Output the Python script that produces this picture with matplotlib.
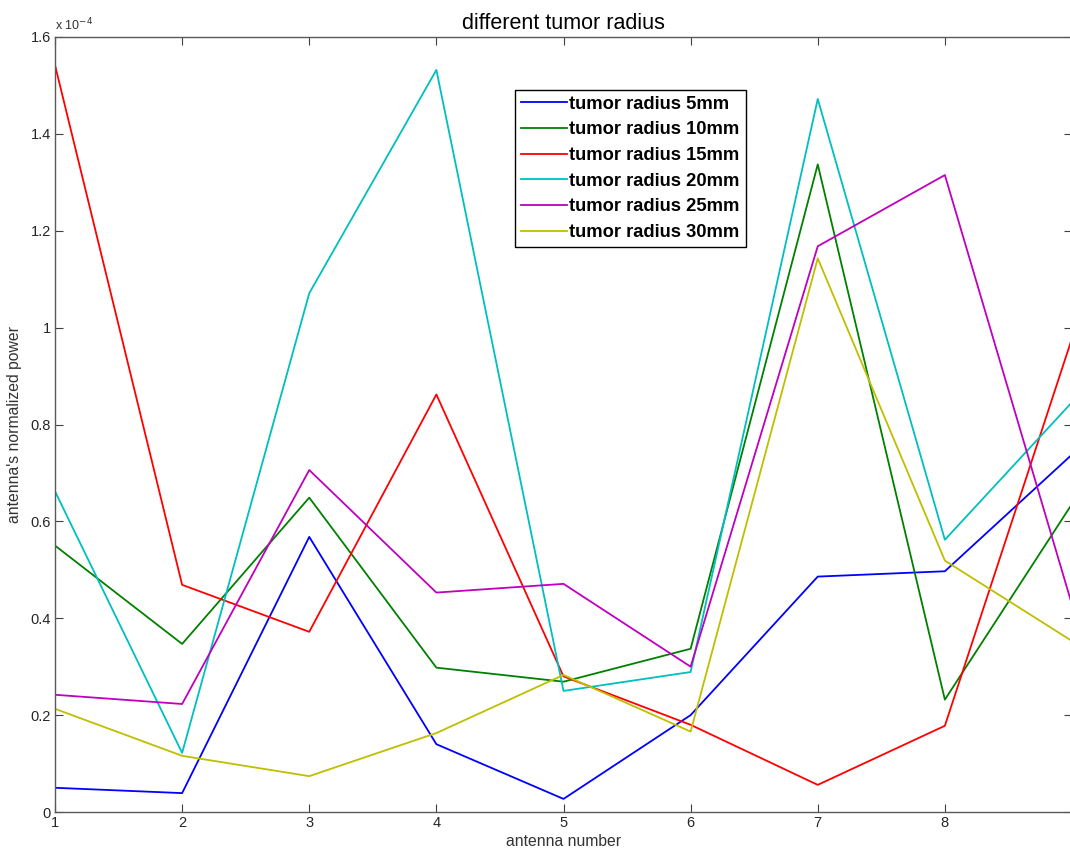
import matplotlib
matplotlib.use('Agg')
import matplotlib.pyplot as plt

plt.rcParams['font.family'] = ['Liberation Sans', 'DejaVu Sans']

# antenna index and normalized power (units of 1e-4)
antenna = [1, 2, 3, 4, 5, 6, 7, 8, 9]
r5 = [0.050, 0.039, 0.568, 0.140, 0.027, 0.200, 0.486, 0.497, 0.738]
r10 = [0.550, 0.347, 0.649, 0.298, 0.269, 0.337, 1.337, 0.232, 0.636]
r15 = [1.542, 0.469, 0.372, 0.862, 0.280, 0.180, 0.056, 0.178, 0.978]
r20 = [0.662, 0.122, 1.071, 1.532, 0.250, 0.289, 1.472, 0.562, 0.846]
r25 = [0.242, 0.223, 0.706, 0.453, 0.471, 0.300, 1.168, 1.315, 0.428]
r30 = [0.213, 0.116, 0.074, 0.163, 0.283, 0.166, 1.143, 0.519, 0.353]

labels = ['tumor radius 5mm', 'tumor radius 10mm', 'tumor radius 15mm',
          'tumor radius 20mm', 'tumor radius 25mm', 'tumor radius 30mm']
colors = ['#0000ff', '#008000', '#ff0000', '#00bfbf', '#bf00bf', '#bfbf00']
yticks = [0, 0.2, 0.4, 0.6, 0.8, 1, 1.2, 1.4, 1.6]
ytick_labels = ['0', '0.2', '0.4', '0.6', '0.8', '1', '1.2', '1.4', '1.6']

W, H = 1070, 852
fig = plt.figure(figsize=(W / 100, H / 100), dpi=100)
ax = fig.add_axes([55 / W, (H - 812) / H, (1072 - 55) / W, (812 - 37) / H])

for ys, lab, c in zip([r5, r10, r15, r20, r25, r30], labels, colors):
    ax.plot(antenna, ys, color=c, lw=1.3, label=lab)

ax.set_xlim(1, 9)
ax.set_ylim(0, 1.6)
ax.set_xticks(antenna[:-1])
ax.set_yticks(yticks)
ax.set_yticklabels(ytick_labels)
ax.tick_params(direction='in', length=6, width=0.8, color='0.25',
               labelsize=10.5, labelcolor='0.15', top=True, right=True, pad=3)
for s in ax.spines.values():
    s.set_color('0.35')
    s.set_linewidth(1.0)

ax.set_title('different tumor radius', fontsize=15.5, pad=6)
ax.set_xlabel('antenna number', fontsize=11.3, color='0.2', labelpad=3)
ax.set_ylabel("antenna's normalized power", fontsize=11.3, color='0.2', labelpad=6)
ax.text(0.0, 1.005, r'x 10$^{-4}$', transform=ax.transAxes, fontsize=9,
        color='0.2', ha='left', va='bottom')

leg = ax.legend(loc='upper left', bbox_to_anchor=(515 / W, 1 - 90 / H),
                bbox_transform=fig.transFigure, fontsize=13.2, frameon=True,
                fancybox=False, framealpha=1, edgecolor='black',
                handlelength=2.5, handletextpad=0.15, labelspacing=0.47,
                borderpad=0.32, borderaxespad=0)
leg.get_frame().set_linewidth(1.0)
for t in leg.get_texts():
    t.set_fontweight('bold')

fig.savefig('out.png', dpi=100)
